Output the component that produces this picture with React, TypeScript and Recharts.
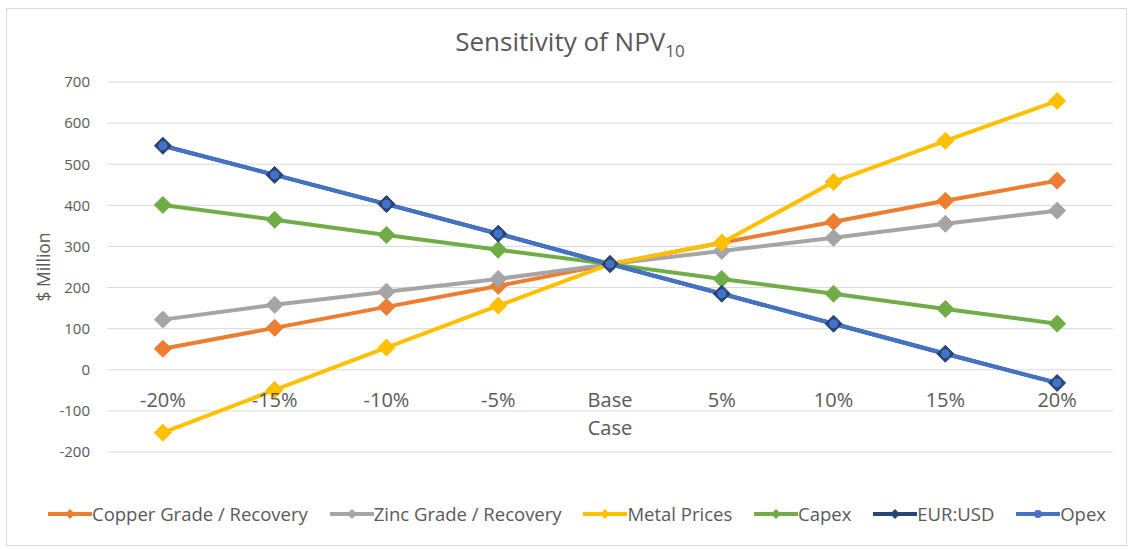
import React from 'react';
import { LineChart, Line, XAxis, YAxis, CartesianGrid } from 'recharts';

const cases = ['-20%', '-15%', '-10%', '-5%', 'Base Case', '5%', '10%', '15%', '20%'];
const copper = [51, 102, 153, 204, 257, 309, 360, 411, 460];
const zinc = [122, 158, 190, 221, 257, 289, 321, 355, 387];
const metalPrices = [-153, -49, 54, 156, 257, 309, 457, 557, 654];
const capex = [401, 365, 328, 292, 257, 221, 185, 148, 112];
const eurUsd = [545, 474, 403, 331, 257, 185, 112, 39, -32];
const opex = [545, 474, 403, 331, 257, 185, 112, 39, -32];
const yTicks = [-200, -100, 0, 100, 200, 300, 400, 500, 600, 700];

const series = [
  { key: 'copper', name: 'Copper Grade / Recovery', color: '#ED7D31', values: copper, marker: 'diamond' },
  { key: 'zinc', name: 'Zinc Grade / Recovery', color: '#A5A5A5', values: zinc, marker: 'diamond' },
  { key: 'metal', name: 'Metal Prices', color: '#FFC000', values: metalPrices, marker: 'diamond' },
  { key: 'capex', name: 'Capex', color: '#70AD47', values: capex, marker: 'diamond' },
  { key: 'eurusd', name: 'EUR:USD', color: '#264478', values: eurUsd, marker: 'diamond' },
  { key: 'opex', name: 'Opex', color: '#4472C4', values: opex, marker: 'circle' },
];

const data = cases.map((c, i) => {
  const row: Record<string, any> = { case: c };
  series.forEach((s) => (row[s.key] = s.values[i]));
  return row;
});

const W = 1129;
const H = 549;
const PLOT_TOP = 82;
const PLOT_BOTTOM = 452;
const PLOT_LEFT = 107;
const PLOT_RIGHT = 1113;
const Y_MIN = -200;
const Y_MAX = 700;
const HALF_BAND = (PLOT_RIGHT - PLOT_LEFT) / cases.length / 2;
const FONT = '"Open Sans", sans-serif';
const TEXT = '#595959';

// category labels sit just under the zero line, not at the bottom of the plot
const zeroY = PLOT_TOP + ((Y_MAX - 0) / (Y_MAX - Y_MIN)) * (PLOT_BOTTOM - PLOT_TOP);

const CaseTick = (props: any) => {
  const { x, payload } = props;
  const words = String(payload.value).split(' ');
  return (
    <text x={x} y={zeroY + 37} textAnchor="middle" fill={TEXT} fontSize={20} fontFamily={FONT}>
      {words.map((w, i) => (
        <tspan key={i} x={x} dy={i === 0 ? 0 : 28}>{w}</tspan>
      ))}
    </text>
  );
};

const diamond = (color: string, r: number) => (props: any) => {
  const { cx, cy, index } = props;
  if (cx == null || cy == null) return <g key={index} />;
  return (
    <polygon
      key={index}
      points={`${cx},${cy - r} ${cx + r},${cy} ${cx},${cy + r} ${cx - r},${cy}`}
      fill={color}
      stroke={color}
      strokeWidth={1}
    />
  );
};

const LegendIcon = ({ color, marker }: { color: string; marker: string }) => (
  <svg width={44} height={12} style={{ display: 'block' }}>
    <line x1={0} y1={6} x2={44} y2={6} stroke={color} strokeWidth={4} />
    {marker === 'circle' ? (
      <circle cx={22} cy={6} r={4} fill={color} />
    ) : (
      <polygon points="22,1 27,6 22,11 17,6" fill={color} />
    )}
  </svg>
);

const ChartLegend = () => (
  <div
    style={{
      position: 'absolute',
      left: 48,
      top: 501,
      width: 1058,
      display: 'flex',
      justifyContent: 'space-between',
      alignItems: 'center',
      fontFamily: FONT,
      fontSize: 18.5,
      color: TEXT,
      whiteSpace: 'nowrap',
    }}
  >
    {series.map((s) => (
      <div key={s.key} style={{ display: 'flex', alignItems: 'center' }}>
        <LegendIcon color={s.color} marker={s.marker} />
        <span>{s.name}</span>
      </div>
    ))}
  </div>
);

export default function App() {
  return (
    <div style={{ position: 'absolute', left: 0, top: 0, width: W, height: H, background: '#fff' }}>
      <div style={{ position: 'absolute', left: 6, top: 8, width: 1121, height: 538, border: '1px solid #D9D9D9', boxSizing: 'border-box' }} />
      <div style={{ position: 'absolute', left: 0, top: 23, width: 1140, textAlign: 'center', fontFamily: FONT, fontSize: 26, color: TEXT }}>
        Sensitivity of NPV<sub style={{ fontSize: 17 }}>10</sub>
      </div>
      <div
        style={{
          position: 'absolute',
          left: 43,
          top: 267,
          transform: 'translate(-50%, -50%) rotate(-90deg)',
          fontFamily: FONT,
          fontSize: 17.5,
          color: TEXT,
          whiteSpace: 'nowrap',
        }}
      >
        $ Million
      </div>
      <div style={{ position: 'absolute', left: 0, top: 0 }}>
        <LineChart
          width={W}
          height={H}
          data={data}
          margin={{ top: PLOT_TOP, right: W - PLOT_RIGHT, bottom: 0, left: PLOT_LEFT - 60 }}
        >
          <CartesianGrid vertical={false} stroke="#D9D9D9" strokeWidth={1} />
          <XAxis
            dataKey="case"
            axisLine={false}
            tickLine={false}
            tick={<CaseTick />}
            interval={0}
            padding={{ left: HALF_BAND, right: HALF_BAND }}
            height={H - PLOT_BOTTOM}
          />
          <YAxis
            domain={[Y_MIN, Y_MAX]}
            ticks={yTicks}
            width={60}
            axisLine={false}
            tickLine={false}
            tickSize={0}
            tickMargin={17}
            tick={{ fill: TEXT, fontSize: 15, fontFamily: FONT }}
          />
          {series.map((s) => (
            <Line
              key={s.key}
              dataKey={s.key}
              name={s.name}
              stroke={s.color}
              strokeWidth={4}
              dot={s.marker === 'circle' ? { r: 2.5, fill: s.color, stroke: s.color } : diamond(s.color, 8.5)}
              activeDot={false}
              isAnimationActive={false}
            />
          ))}
        </LineChart>
      </div>
      <ChartLegend />
    </div>
  );
}
